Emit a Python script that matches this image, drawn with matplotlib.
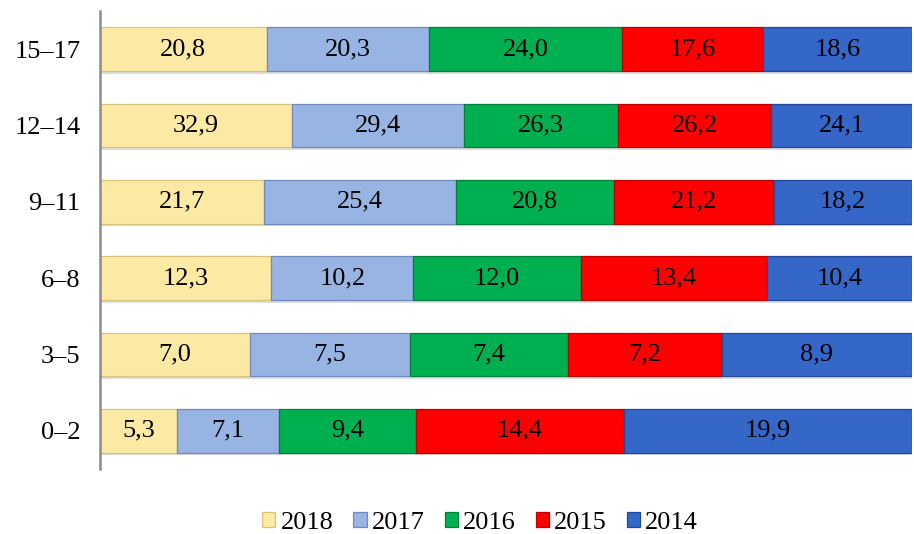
import numpy as np
import matplotlib.pyplot as plt

ages = ["0–2", "3–5", "6–8", "9–11", "12–14", "15–17"]
years = ["2018", "2017", "2016", "2015", "2014"]
v2018 = [5.3, 7.0, 12.3, 21.7, 32.9, 20.8]
v2017 = [7.1, 7.5, 10.2, 25.4, 29.4, 20.3]
v2016 = [9.4, 7.4, 12.0, 20.8, 26.3, 24.0]
v2015 = [14.4, 7.2, 13.4, 21.2, 26.2, 17.6]
v2014 = [19.9, 8.9, 10.4, 18.2, 24.1, 18.6]
colors = ["#FCE9A4", "#97B4E2", "#00B050", "#FF0000", "#3467C8"]
edges = ["#D9C27A", "#6F8BBE", "#00803A", "#C00000", "#24479A"]

plt.rcParams['font.family'] = ['Liberation Serif', 'DejaVu Serif']

series = np.array([v2018, v2017, v2016, v2015, v2014])
totals = series.sum(axis=0)
shares = series / totals * 100

fig = plt.figure(figsize=(9.14, 5.34), dpi=100)
ax = fig.add_axes([100 / 914, 1 - 469 / 534, 812 / 914, 458 / 534])

y = np.arange(len(ages))
left = np.zeros(len(ages))
for i, yr in enumerate(years):
    # soft shadow under each bar
    ax.barh(y - 0.035, shares[i], left=left, height=0.57, color="#BBBBBB",
            linewidth=0, alpha=0.5, zorder=1)
    ax.barh(y, shares[i], left=left, height=0.57, color=colors[i],
            edgecolor=edges[i], linewidth=0.9, label=yr, zorder=2)
    for j in range(len(ages)):
        ax.text(left[j] + shares[i][j] / 2, y[j], f"{series[i][j]:.1f}".replace(".", ","),
                ha="center", va="center", fontsize=19, color="black", zorder=3)
    left += shares[i]

ax.set_xlim(0, 100)
ax.set_ylim(-0.5, len(ages) - 0.5)
ax.set_yticks(y)
ax.set_yticklabels(ages, fontsize=19)
ax.tick_params(axis="y", length=0, pad=14)
ax.set_xticks([])
for s in ["top", "right", "bottom"]:
    ax.spines[s].set_visible(False)
ax.spines["left"].set_color("#8C8C8C")
ax.spines["left"].set_linewidth(1.8)

fig.legend(loc="center", bbox_to_anchor=(480 / 914, 1 - 523 / 534), ncol=5, frameon=False,
           fontsize=19, handlelength=0.5, handleheight=0.5, handletextpad=0.2,
           columnspacing=0.75)

fig.savefig("out.png", dpi=100)
